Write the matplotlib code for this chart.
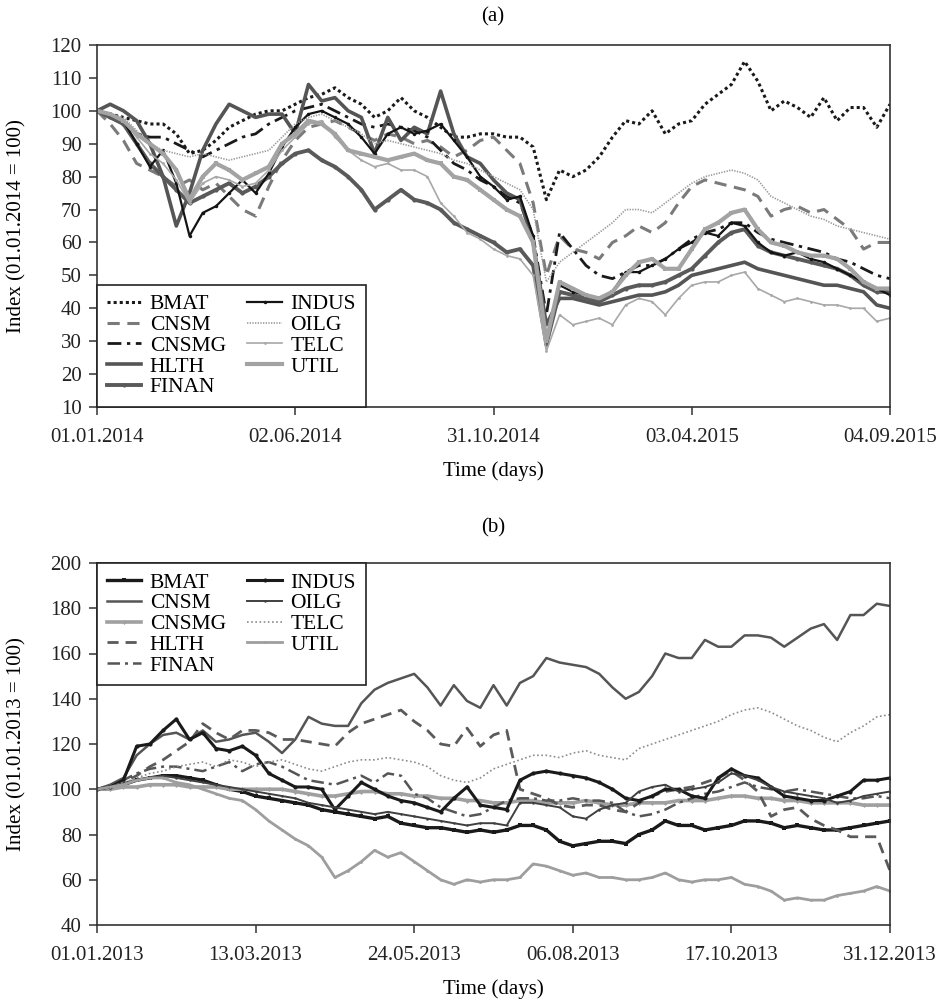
import numpy as np
import matplotlib
matplotlib.use("Agg")
import matplotlib.pyplot as plt

plt.rcParams["font.family"] = ["Liberation Serif", "DejaVu Serif"]

# ---------------- panel (a): 01.01.2014 - 04.09.2015 ----------------
a_ticks = ["01.01.2014", "02.06.2014", "31.10.2014", "03.04.2015", "04.09.2015"]

a_bmat = [100, 99, 98, 97, 96, 96, 93, 87, 88, 91, 95, 97, 99, 100, 100, 102, 104, 105, 107, 104,
          102, 98, 100, 104, 100, 98, 95, 92, 92, 93, 93, 92, 92, 89, 73, 82, 80, 82, 86, 92,
          97, 96, 100, 93, 96, 97, 102, 105, 108, 115, 109, 100, 103, 101, 98, 104, 97, 101, 101, 95, 102]
a_cnsm = [100, 96, 91, 84, 82, 80, 77, 79, 76, 78, 74, 70, 68, 77, 85, 91, 95, 96, 97, 95,
          93, 91, 93, 92, 90, 91, 89, 86, 88, 91, 92, 88, 84, 72, 50, 62, 58, 57, 55, 60,
          62, 65, 63, 66, 72, 77, 79, 78, 77, 76, 74, 68, 70, 71, 69, 70, 67, 64, 58, 60, 60]
a_cnsmg = [100, 98, 96, 93, 92, 92, 90, 88, 86, 88, 90, 92, 93, 96, 98, 100, 101, 102, 100, 98,
           96, 95, 96, 95, 94, 92, 88, 84, 82, 79, 77, 74, 72, 62, 38, 63, 58, 53, 50, 49,
           51, 53, 53, 55, 58, 61, 63, 64, 66, 66, 63, 61, 60, 59, 58, 57, 55, 54, 52, 50, 49]
a_hlth = [100, 102, 100, 97, 90, 80, 65, 75, 88, 96, 102, 100, 98, 99, 99, 93, 108, 103, 104, 100,
          98, 87, 98, 91, 95, 93, 106, 93, 86, 84, 79, 75, 73, 60, 35, 43, 43, 42, 41, 42,
          43, 44, 44, 45, 47, 50, 51, 52, 53, 54, 52, 51, 50, 49, 48, 47, 47, 46, 45, 41, 40]
a_finan = [100, 98, 96, 90, 84, 80, 76, 72, 74, 76, 78, 75, 77, 80, 84, 87, 88, 85, 83, 80,
           76, 70, 73, 76, 73, 72, 70, 66, 64, 62, 60, 57, 58, 53, 29, 45, 44, 43, 42, 44,
           46, 47, 47, 48, 50, 52, 56, 60, 63, 64, 59, 57, 56, 55, 54, 53, 52, 50, 47, 45, 45]
a_indus = [100, 99, 97, 90, 83, 88, 78, 62, 69, 71, 75, 79, 75, 81, 89, 95, 99, 100, 98, 96,
           92, 87, 93, 95, 93, 94, 96, 91, 86, 80, 77, 73, 74, 62, 30, 47, 45, 44, 43, 45,
           51, 51, 53, 55, 58, 60, 63, 62, 66, 65, 60, 57, 56, 57, 55, 54, 52, 50, 48, 46, 44]
a_oilg = [100, 99, 98, 94, 90, 88, 87, 86, 87, 86, 85, 86, 87, 88, 92, 96, 98, 99, 97, 95,
          93, 90, 91, 90, 89, 88, 87, 85, 84, 82, 80, 78, 76, 70, 48, 54, 57, 60, 63, 66,
          70, 70, 69, 72, 75, 78, 80, 81, 82, 81, 79, 74, 72, 70, 68, 67, 65, 64, 63, 62, 61]
a_telc = [100, 99, 97, 92, 87, 84, 79, 72, 78, 80, 79, 77, 78, 82, 88, 92, 96, 97, 92, 88,
          85, 83, 84, 82, 82, 80, 72, 68, 63, 61, 58, 56, 55, 50, 27, 38, 35, 36, 37, 35,
          41, 43, 42, 38, 43, 47, 48, 48, 50, 51, 46, 44, 42, 43, 42, 41, 41, 40, 40, 36, 37]
a_util = [100, 99, 97, 93, 90, 87, 82, 73, 80, 84, 82, 79, 81, 83, 90, 93, 97, 96, 93, 88,
          87, 86, 85, 86, 87, 85, 84, 80, 79, 76, 73, 70, 68, 60, 30, 48, 46, 44, 43, 45,
          50, 54, 55, 52, 52, 58, 64, 66, 69, 70, 64, 60, 59, 57, 56, 56, 55, 52, 48, 46, 46]

# ---------------- panel (b): 01.01.2013 - 31.12.2013 ----------------
b_ticks = ["01.01.2013", "13.03.2013", "24.05.2013", "06.08.2013", "17.10.2013", "31.12.2013"]

b_bmat = [100, 101, 102, 104, 105, 106, 106, 105, 104, 102, 100, 99, 97, 96, 95, 94, 93, 91, 90, 89,
          88, 87, 88, 85, 84, 83, 83, 82, 81, 82, 81, 82, 84, 84, 82, 77, 75, 76, 77, 77,
          76, 80, 82, 86, 84, 84, 82, 83, 84, 86, 86, 85, 83, 84, 83, 82, 82, 83, 84, 85, 86]
b_cnsm = [100, 102, 105, 115, 120, 124, 125, 122, 126, 121, 122, 124, 125, 121, 116, 122, 132, 129, 128, 128,
          138, 144, 147, 149, 151, 145, 137, 146, 139, 136, 146, 137, 147, 150, 158, 156, 155, 154, 151, 145,
          140, 143, 150, 160, 158, 158, 166, 163, 163, 168, 168, 167, 163, 167, 171, 173, 166, 177, 177, 182, 181]
b_cnsmg = [100, 100, 101, 101, 102, 102, 102, 101, 101, 101, 100, 100, 100, 100, 100, 99, 98, 97, 97, 98,
           99, 99, 98, 98, 97, 97, 96, 96, 95, 95, 94, 94, 95, 95, 94, 94, 94, 95, 94, 93,
           93, 94, 94, 94, 95, 95, 95, 96, 97, 97, 96, 96, 95, 95, 94, 94, 94, 94, 93, 93, 93]
b_hlth = [100, 101, 103, 106, 110, 113, 117, 121, 129, 125, 122, 126, 126, 125, 122, 122, 121, 120, 119, 125,
          129, 131, 133, 135, 130, 126, 120, 119, 127, 119, 124, 126, 100, 98, 96, 93, 92, 93, 93, 91,
          90, 94, 97, 99, 100, 101, 103, 105, 108, 104, 99, 88, 91, 92, 87, 84, 82, 79, 79, 79, 64]
b_finan = [100, 101, 104, 107, 109, 110, 110, 109, 108, 110, 112, 108, 111, 112, 110, 107, 104, 103, 102, 104,
           106, 103, 107, 106, 98, 96, 92, 90, 88, 89, 92, 95, 96, 96, 95, 95, 96, 95, 95, 94,
           90, 88, 89, 91, 94, 96, 98, 99, 101, 103, 101, 100, 99, 100, 99, 98, 97, 96, 96, 97, 96]
b_indus = [100, 101, 104, 119, 120, 126, 131, 122, 125, 118, 117, 119, 115, 107, 104, 101, 101, 100, 91, 97,
           103, 100, 97, 95, 94, 92, 90, 96, 101, 93, 92, 91, 104, 107, 108, 107, 106, 105, 103, 100,
           96, 95, 97, 100, 100, 97, 96, 105, 109, 106, 105, 101, 97, 96, 95, 95, 97, 99, 104, 104, 105]
b_oilg = [100, 101, 103, 104, 105, 106, 105, 104, 103, 102, 101, 100, 99, 98, 97, 96, 94, 93, 92, 91,
          90, 89, 90, 89, 88, 87, 86, 85, 84, 85, 85, 84, 94, 94, 93, 92, 88, 87, 91, 93,
          94, 99, 101, 102, 99, 100, 101, 103, 107, 106, 104, 101, 99, 98, 97, 96, 94, 95, 97, 98, 99]
b_telc = [100, 101, 103, 105, 107, 108, 110, 111, 112, 110, 113, 112, 110, 112, 113, 111, 109, 108, 110, 112,
          113, 113, 114, 113, 112, 110, 106, 104, 103, 105, 109, 111, 113, 115, 115, 114, 116, 117, 115, 114,
          113, 118, 120, 122, 124, 126, 128, 130, 133, 135, 136, 134, 131, 128, 126, 123, 121, 125, 128, 132, 133]
b_util = [100, 101, 102, 104, 105, 105, 103, 102, 100, 98, 96, 95, 91, 86, 82, 78, 75, 70, 61, 64,
          68, 73, 70, 72, 68, 64, 60, 58, 60, 59, 60, 60, 61, 67, 66, 64, 62, 63, 61, 61,
          60, 60, 61, 63, 60, 59, 60, 60, 61, 58, 57, 55, 51, 52, 51, 51, 53, 54, 55, 57, 55]

names = ["BMAT", "CNSM", "CNSMG", "HLTH", "FINAN", "INDUS", "OILG", "TELC", "UTIL"]

a_series = [a_bmat, a_cnsm, a_cnsmg, a_hlth, a_finan, a_indus, a_oilg, a_telc, a_util]
a_styles = [
    dict(color="#1a1a1a", lw=2.2, ls=(0, (1, 1))),
    dict(color="#7a7a7a", lw=2.2, ls=(0, (4, 2.5))),
    dict(color="#1a1a1a", lw=2.0, ls=(0, (5, 2, 1.2, 2))),
    dict(color="#555555", lw=2.6, ls="-"),
    dict(color="#5a5a5a", lw=2.8, ls="-", marker="o", ms=3),
    dict(color="#141414", lw=1.6, ls="-", marker="o", ms=2.5),
    dict(color="#9a9a9a", lw=1.2, ls=(0, (0.8, 0.8))),
    dict(color="#a8a8a8", lw=1.2, ls="-", marker="o", ms=2),
    dict(color="#a3a3a3", lw=3.0, ls="-", marker="s", ms=3),
]

b_series = [b_bmat, b_cnsm, b_cnsmg, b_hlth, b_finan, b_indus, b_oilg, b_telc, b_util]
b_styles = [
    dict(color="#1a1a1a", lw=2.4, ls="-", marker="s", ms=2.5),
    dict(color="#555555", lw=1.8, ls="-"),
    dict(color="#a0a0a0", lw=2.6, ls="-", marker="D", ms=2.5),
    dict(color="#5a5a5a", lw=2.0, ls=(0, (4, 2.5))),
    dict(color="#555555", lw=1.8, ls=(0, (5, 2, 1.2, 2))),
    dict(color="#1a1a1a", lw=2.2, ls="-", marker="o", ms=3),
    dict(color="#404040", lw=1.4, ls="-", marker="o", ms=1.8),
    dict(color="#8c8c8c", lw=1.2, ls=(0, (1, 1.5))),
    dict(color="#9e9e9e", lw=2.0, ls="-", marker="o", ms=2),
]

FS = 15


def style_axes(ax, ticks, labels):
    ax.set_xlim(ticks[0], ticks[-1])
    ax.set_xticks(ticks)
    ax.set_xticklabels(labels)
    for sp in ax.spines.values():
        sp.set_color("#333333")
        sp.set_linewidth(1.2)
    ax.tick_params(axis="both", direction="out", length=6, width=1.1,
                   colors="#333333", labelcolor="#222222", labelsize=FS)
    ax.tick_params(axis="x", pad=9)
    ax.tick_params(axis="y", pad=5)


def add_legend(ax, loc):
    leg = ax.legend(loc=loc, ncol=2, fontsize=15.5, frameon=True, fancybox=False,
                    edgecolor="#222222", borderaxespad=0, labelspacing=0.03,
                    handlelength=1.6, handletextpad=0.4, columnspacing=1.0,
                    borderpad=0.45)
    leg.get_frame().set_linewidth(1.2)
    leg.get_frame().set_alpha(1)


fig = plt.figure(figsize=(9.45, 10.01), dpi=100)

# panel (a)
ax1 = fig.add_axes([97 / 945, 1 - 407 / 1001, 793 / 945, 362 / 1001])
xa = np.arange(len(a_bmat))
for name, vals, st in zip(names, a_series, a_styles):
    ax1.plot(xa, vals, label=name, linestyle=st["ls"], color=st["color"], lw=st["lw"],
             marker=st.get("marker"), markersize=st.get("ms", 0), markeredgewidth=0)
ax1.set_ylim(10, 120)
ax1.set_yticks(np.arange(10, 121, 10))
style_axes(ax1, [0, 15, 30, 45, 60], a_ticks)
add_legend(ax1, "lower left")

# panel (b)
ax2 = fig.add_axes([97 / 945, 1 - 925 / 1001, 793 / 945, 362 / 1001])
xb = np.arange(len(b_bmat))
for name, vals, st in zip(names, b_series, b_styles):
    ax2.plot(xb, vals, label=name, linestyle=st["ls"], color=st["color"], lw=st["lw"],
             marker=st.get("marker"), markersize=st.get("ms", 0), markeredgewidth=0)
ax2.set_ylim(40, 200)
ax2.set_yticks(np.arange(40, 201, 20))
style_axes(ax2, [0, 12, 24, 36, 48, 60], b_ticks)
add_legend(ax2, "upper left")

# titles and axis labels
fig.text(493 / 945, 1 - 17 / 1001, "(a)", ha="center", va="center", fontsize=FS)
fig.text(493 / 945, 1 - 528 / 1001, "(b)", ha="center", va="center", fontsize=FS)
fig.text(493 / 945, 1 - 471 / 1001, "Time (days)", ha="center", va="center", fontsize=FS)
fig.text(493 / 945, 1 - 989 / 1001, "Time (days)", ha="center", va="center", fontsize=FS)
fig.text(17 / 945, 1 - 226 / 1001, "Index (01.01.2014 = 100)", rotation=90,
         ha="center", va="center", fontsize=FS)
fig.text(17 / 945, 1 - 744 / 1001, "Index (01.01.2013 = 100)", rotation=90,
         ha="center", va="center", fontsize=FS)

fig.savefig("out.png", dpi=100, facecolor="white")
